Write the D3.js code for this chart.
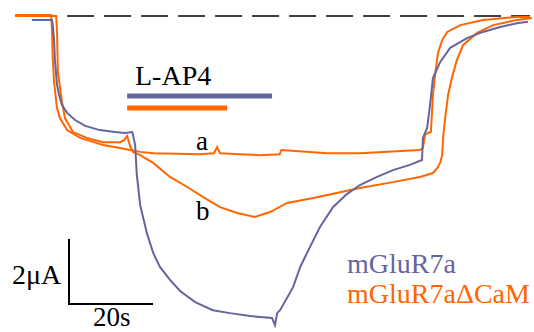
<!DOCTYPE html>
<html>
<head>
<meta charset="utf-8">
<script src="https://cdn.jsdelivr.net/npm/d3@7"></script>
<style>
  body { margin: 0; background: #fff; }
</style>
</head>
<body>
<svg id="canvas" width="534" height="332"></svg>
<script>
// time (s) and current (uA)
var wt_t = [4.0, 8.8, 9.0, 9.3, 9.5, 10.0, 10.5, 11.2, 12.4, 14.3, 16.7, 20.2, 23.8, 26.2, 27.9, 28.1, 28.6, 29.0, 29.8, 31.4, 32.9, 34.5, 36.9, 39.3, 42.9, 47.1, 51.2, 56.0, 61.2, 61.9, 62.4, 63.1, 66.2, 67.9, 70.2, 72.6, 75.7, 79.0, 82.1, 86.2, 90.0, 94.0, 96.9, 97.1, 98.1, 98.8, 99.5, 101.2, 103.6, 107.6, 111.4, 115.5, 119.5, 122.1];
var wt_i = [-0.12, -0.12, -0.28, -0.74, -1.35, -2.12, -2.43, -2.74, -2.98, -3.20, -3.38, -3.51, -3.57, -3.60, -3.57, -3.66, -3.97, -4.89, -5.82, -6.68, -7.29, -7.72, -8.12, -8.46, -8.80, -9.05, -9.14, -9.23, -9.29, -9.51, -9.14, -9.05, -8.34, -7.72, -7.11, -6.49, -5.88, -5.48, -5.20, -4.95, -4.74, -4.58, -4.43, -3.75, -3.45, -2.74, -1.91, -1.42, -0.98, -0.68, -0.49, -0.34, -0.22, -0.18];

var a_t = [0, 8.6, 8.8, 9.0, 9.3, 10.0, 10.7, 12.4, 15.5, 21.0, 25.0, 27.4, 29.8, 32.9, 44.0, 47.4, 48.1, 48.8, 58.3, 63.0, 63.4, 74.3, 82.1, 96.4, 97.1, 97.6, 98.3, 99.0, 99.5, 100.0, 100.7, 101.7, 102.9, 106.0, 111.4, 119.5, 122.6];
var a_i = [0.03, 0.03, -0.43, -1.35, -2.03, -2.83, -3.14, -3.51, -3.75, -3.97, -4.06, -4.12, -4.18, -4.22, -4.25, -4.22, -4.03, -4.22, -4.28, -4.25, -4.12, -4.22, -4.22, -4.12, -4.06, -3.66, -3.60, -3.57, -2.43, -1.82, -1.14, -0.74, -0.49, -0.28, -0.12, -0.03, -0.03];

var b_t = [0, 9.8, 10.0, 10.2, 11.2, 11.9, 13.8, 17.1, 21.0, 25.0, 26.0, 26.7, 27.4, 28.1, 29.8, 32.9, 36.9, 41.0, 44.8, 48.8, 52.9, 57.1, 60.7, 64.8, 71.0, 77.4, 82.1, 90.0, 96.4, 99.5, 100.5, 101.2, 101.7, 101.9, 102.4, 103.1, 104.0, 105.2, 106.7, 110.0, 113.8, 119.5, 123.1];
var b_i = [0, 0, -0.43, -1.72, -2.65, -3.14, -3.57, -3.75, -3.88, -3.88, -3.82, -3.69, -4.00, -4.18, -4.28, -4.52, -4.95, -5.26, -5.57, -5.88, -6.06, -6.18, -6.03, -5.75, -5.60, -5.42, -5.29, -5.11, -4.95, -4.83, -4.68, -4.52, -4.28, -3.75, -3.14, -2.43, -1.91, -1.35, -0.89, -0.52, -0.28, -0.12, -0.06];

// L-AP4 application (s)
var lap4_wt = [26.7, 61.2];
var lap4_cam = [26.7, 50.5];

var names = ['mGluR7a', 'mGluR7a\u0394CaM'];
var purple = '#65659e';
var orange = '#ff6600';
var serif = '"Liberation Serif", "Times New Roman", Times, serif';

// ************************************************************************************************** //
// Scales

var xScale = d3.scaleLinear().domain([0, 122.6]).range([15, 530]);
var yScale = d3.scaleLinear().domain([0, -9.29]).range([16, 318]);

var svg = d3.select('#canvas');
var line_gen = d3.line().x((d) => { return xScale(d.t) }).y((d) => { return yScale(d.i) });

function toData(t, i){
  return d3.range(t.length).map((d) => { return { t: t[d], i: i[d] } });
}

function label(x, y, size, fill, str){
  return svg.append('text')
    .attr('x', x).attr('y', y)
    .attr('font-family', serif).attr('font-size', size)
    .attr('fill', fill)
    .text(str);
}

// ************************************************************************************************** //
// Baseline

svg.append('line')
  .attr('x1', xScale(12.4)).attr('x2', xScale(122.6))
  .attr('y1', yScale(0)).attr('y2', yScale(0))
  .style('stroke', 'black').style('stroke-width', 1.5).style('stroke-dasharray', '27,10');

// ************************************************************************************************** //
// Traces

svg.append('path').attr('d', line_gen(toData(b_t, b_i)))
  .style('fill', 'none').style('stroke', orange).style('stroke-width', 2);
svg.append('path').attr('d', line_gen(toData(a_t, a_i)))
  .style('fill', 'none').style('stroke', orange).style('stroke-width', 2);
svg.append('path').attr('d', line_gen(toData(wt_t, wt_i)))
  .style('fill', 'none').style('stroke', purple).style('stroke-width', 2);

// ************************************************************************************************** //
// L-AP4 bars

svg.append('line')
  .attr('x1', xScale(lap4_wt[0])).attr('x2', xScale(lap4_wt[1]))
  .attr('y1', 96).attr('y2', 96)
  .style('stroke', purple).style('stroke-width', 5);
svg.append('line')
  .attr('x1', xScale(lap4_cam[0])).attr('x2', xScale(lap4_cam[1]))
  .attr('y1', 108).attr('y2', 108)
  .style('stroke', orange).style('stroke-width', 5);

label(135, 85, 28, 'black', 'L-AP4');
label(196, 150, 27, 'black', 'a');
label(196, 220, 27, 'black', 'b');

// ************************************************************************************************** //
// Scale bar: 20 s, 2 uA

var sx0 = 69, sy0 = 304;
var sbW = xScale(20) - xScale(0);
var sbH = yScale(-2) - yScale(0);

svg.append('path')
  .attr('d', 'M' + sx0 + ',' + (sy0 - sbH) + 'V' + sy0 + 'H' + (sx0 + sbW))
  .style('fill', 'none').style('stroke', 'black').style('stroke-width', 2);

label(12, 284, 28, 'black', '2\u03bcA');
label(93, 326, 27, 'black', '20s');

// ************************************************************************************************** //
// Legend

label(347, 273, 28, purple, names[0]);
label(347, 303, 28, orange, names[1]);
</script>
</body>
</html>
